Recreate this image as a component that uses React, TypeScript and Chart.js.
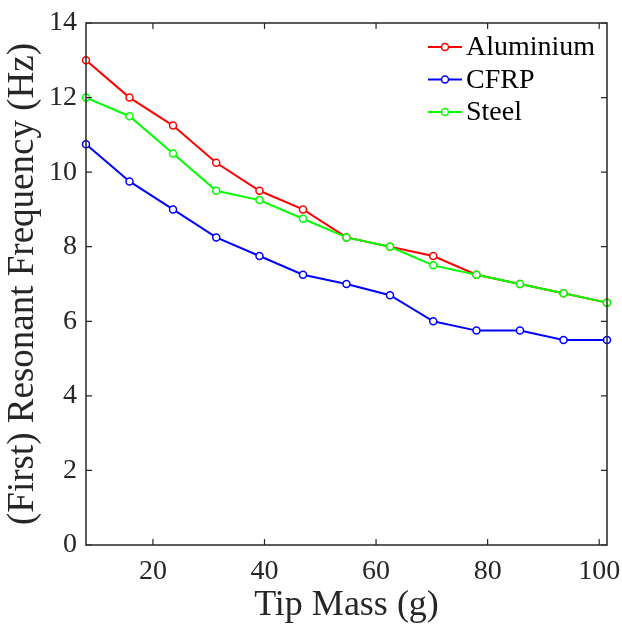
import React, { useEffect, useRef } from "react";
import { Chart, registerables } from "chart.js";

Chart.register(...registerables);

const tipMass = [8, 15.8, 23.6, 31.35, 39.1, 46.9, 54.7, 62.5, 70.25, 78, 85.8, 93.6, 101.4];
const aluminium = [13, 12, 11.25, 10.25, 9.5, 9, 8.25, 8, 7.75, 7.25, 7, 6.75, 6.5];
const cfrp = [10.75, 9.75, 9, 8.25, 7.75, 7.25, 7, 6.7, 6, 5.75, 5.75, 5.5, 5.5];
const steel = [12, 11.5, 10.5, 9.5, 9.25, 8.75, 8.25, 8, 7.5, 7.25, 7, 6.75, 6.5];
const xTicks = [20, 40, 60, 80, 100];
const yTicks = [0, 2, 4, 6, 8, 10, 12, 14];

const FONT = "'Liberation Serif', 'DejaVu Serif', serif";
const TEXT = "#262626";

const framePlugin = {
  id: "frame",
  afterDatasetsDraw(chart: any) {
    const { ctx, chartArea, scales } = chart;
    const { left, right, top, bottom } = chartArea;
    ctx.save();
    ctx.strokeStyle = TEXT;
    ctx.lineWidth = 1.5;
    ctx.strokeRect(left, top, right - left, bottom - top);
    ctx.lineWidth = 1.2;
    const tl = 6;
    ctx.beginPath();
    for (const v of xTicks) {
      const px = scales.x.getPixelForValue(v);
      ctx.moveTo(px, bottom);
      ctx.lineTo(px, bottom - tl);
      ctx.moveTo(px, top);
      ctx.lineTo(px, top + tl);
    }
    for (const v of yTicks) {
      const py = scales.y.getPixelForValue(v);
      ctx.moveTo(left, py);
      ctx.lineTo(left + tl, py);
      ctx.moveTo(right, py);
      ctx.lineTo(right - tl, py);
    }
    ctx.stroke();

    // legend
    chart.data.datasets.forEach((ds: any, i: number) => {
      const y = top + 24 + i * 32.5;
      const x0 = right - 179;
      ctx.strokeStyle = ds.borderColor;
      ctx.lineWidth = 2;
      ctx.beginPath();
      ctx.moveTo(x0, y);
      ctx.lineTo(x0 + 34, y);
      ctx.stroke();
      ctx.beginPath();
      ctx.fillStyle = "#ffffff";
      ctx.lineWidth = 1.5;
      ctx.arc(x0 + 17, y, 3.5, 0, Math.PI * 2);
      ctx.fill();
      ctx.stroke();
      ctx.fillStyle = "#000000";
      ctx.font = `28px ${FONT}`;
      ctx.textBaseline = "middle";
      ctx.textAlign = "left";
      ctx.fillText(ds.label, x0 + 38, y + 1);
    });
    ctx.restore();
  },
};

function toPoints(ys: number[]) {
  return tipMass.map((x, i) => ({ x, y: ys[i] }));
}

export default function App() {
  const ref = useRef<HTMLCanvasElement>(null);
  useEffect(() => {
    if (!ref.current) return;
    const mk = (label: string, ys: number[], color: string, order: number) => ({
      label,
      data: toPoints(ys),
      order,
      borderColor: color,
      backgroundColor: color,
      borderWidth: 2,
      pointRadius: 3.5,
      pointBorderWidth: 1.5,
      pointBackgroundColor: "#ffffff",
      pointBorderColor: color,
      showLine: true,
      tension: 0,
      clip: false as any,
    });
    const chart = new Chart(ref.current, {
      type: "scatter",
      data: {
        datasets: [
          mk("Aluminium", aluminium, "#ff0000", 2),
          mk("CFRP", cfrp, "#0000ff", 1),
          mk("Steel", steel, "#00ff00", 0),
        ],
      },
      options: {
        animation: false,
        responsive: false,
        layout: { padding: { left: 8, right: 15, top: 23, bottom: 0 } },
        plugins: { legend: { display: false }, tooltip: { enabled: false } },
        scales: {
          x: {
            type: "linear",
            min: 8,
            max: 101.4,
            afterFit: (s: any) => { s.height = 79; s.paddingLeft = 0; s.paddingRight = 0; },
            afterBuildTicks: (s: any) => { s.ticks = xTicks.map((v) => ({ value: v })); },
            grid: { display: false, drawTicks: false },
            border: { display: false },
            ticks: { color: TEXT, font: { family: FONT, size: 28 }, padding: 10, maxRotation: 0, autoSkip: false },
            title: { display: true, text: "Tip Mass (g)", color: TEXT, font: { family: FONT, size: 36, lineHeight: 1.0 }, padding: { top: 0, bottom: 0 } },
          },
          y: {
            type: "linear",
            min: 0,
            max: 14,
            afterFit: (s: any) => { s.width = 78; s.paddingTop = 0; s.paddingBottom = 0; },
            afterBuildTicks: (s: any) => { s.ticks = yTicks.map((v) => ({ value: v })); },
            grid: { display: false, drawTicks: false },
            border: { display: false },
            ticks: { color: TEXT, font: { family: FONT, size: 28 }, padding: 9 },
            title: { display: true, text: "(First) Resonant Frequency (Hz)", color: TEXT, font: { family: FONT, size: 37, lineHeight: 0.8 }, padding: { top: 0, bottom: 0 } },
          },
        },
      },
      plugins: [framePlugin],
    });
    return () => chart.destroy();
  }, []);
  return (
    <canvas
      ref={ref}
      width={622}
      height={624}
      style={{ display: "block", position: "absolute", left: 0, top: 0, width: 622, height: 624 }}
    />
  );
}
